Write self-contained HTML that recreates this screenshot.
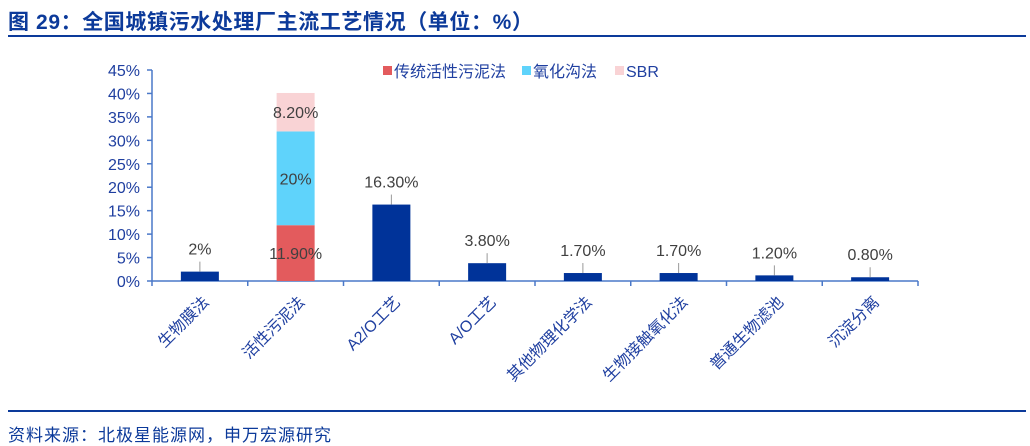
<!DOCTYPE html>
<html><head><meta charset="utf-8"><style>
body{margin:0;width:1030px;height:442px;background:#fff;overflow:hidden;font-family:"Liberation Sans","Noto Sans CJK SC",sans-serif;position:relative}
.title{position:absolute;left:8px;top:6px;font-size:21px;font-weight:bold;color:#0c3a9a;white-space:nowrap;letter-spacing:0.6px}
.rule{position:absolute;left:8px;width:1018px;height:2px;background:#0c3a9a}
.src{position:absolute;left:8px;top:421px;font-size:17px;color:#0c3a9a;letter-spacing:1px}
</style></head><body>
<div class="title">图 29：全国城镇污水处理厂主流工艺情况（单位：%）</div>
<div class="rule" style="top:35px"></div>
<div class="rule" style="top:410px"></div>
<div class="src">资料来源：北极星能源网，申万宏源研究</div>
<svg id="chart" width="1030" height="442" style="position:absolute;left:0;top:0"></svg>
<script>
const categories=["生物膜法","活性污泥法","A2/O工艺","A/O工艺","其他物理化学法","生物接触氧化法","普通生物滤池","沉淀分离"];
const singleValues=[2,null,16.3,3.8,1.7,1.7,1.2,0.8];
const singleLabels=["2%","","16.30%","3.80%","1.70%","1.70%","1.20%","0.80%"];
const stackTraditional=11.9, stackOxidation=20, stackSBR=8.2;
const stackLabels=["11.90%","20%","8.20%"];
const yTicks=[0,5,10,15,20,25,30,35,40,45];
const svg=document.getElementById('chart');
const NS='http://www.w3.org/2000/svg';
const x0=152,x1=918,yBase=281,yTop=70,yMax=45;
const bw=(x1-x0)/categories.length;
const y=v=>yBase-(v/yMax)*(yBase-yTop);
const xc=i=>x0+bw*(i+0.5);
function mk(t,a){const e=document.createElementNS(NS,t);for(const k in a)e.setAttribute(k,a[k]);svg.appendChild(e);return e;}
const axisC='#4a78c8',txtC='#1f3fa0';
let e=mk('line',{x1:x0,y1:yTop,x2:x0,y2:yBase,stroke:axisC,'stroke-width':1.5});

e=mk('line',{x1:x0,y1:yBase,x2:x1,y2:yBase,stroke:axisC,'stroke-width':1.5});

yTicks.forEach(v=>{
 mk('line',{x1:x0-5,y1:y(v),x2:x0,y2:y(v),stroke:axisC,'stroke-width':1.5});
 e=mk('text',{x:x0-12,y:y(v)+6,'text-anchor':'end','font-size':16,fill:txtC});
 e.textContent=v+'%';
 
});
for(let i=0;i<=categories.length;i++){mk('line',{x1:x0+bw*i,y1:yBase,x2:x0+bw*i,y2:yBase+5,stroke:axisC,'stroke-width':1.5});}
const barW=38;
categories.forEach((c,i)=>{
 const cx=xc(i);
 e=mk('text',{x:0,y:0,'text-anchor':'end','font-size':16,fill:txtC,transform:`translate(${cx+10},${yBase+22}) rotate(-45)`});
 e.textContent=c;
 
 const v=singleValues[i];
 if(v!=null){
  e=mk('rect',{x:cx-barW/2,y:y(v),width:barW,height:yBase-y(v),fill:'#003399'});
  
  mk('line',{x1:cx,y1:y(v),x2:cx,y2:y(v)-10,stroke:'#999','stroke-width':1});
  e=mk('text',{x:cx,y:y(v)-17,'text-anchor':'middle','font-size':16,fill:'#404040'});
  e.textContent=singleLabels[i];
  
 }else{
  const segs=[[stackTraditional,'#e35b5d','traditional'],[stackOxidation,'#5fd3fb','oxidation-ditch'],[stackSBR,'#f9d3d5','sbr']];
  let acc=0;
  segs.forEach((s,k)=>{
   e=mk('rect',{x:cx-barW/2,y:y(acc+s[0]),width:barW,height:y(acc)-y(acc+s[0]),fill:s[1]});
   
   const t=mk('text',{x:cx,y:y(acc+s[0]/2)+6,'text-anchor':'middle','font-size':16,fill:'#404040'});
   t.textContent=stackLabels[k];
   
   acc+=s[0];
  });
 }
});
const legend=[["传统活性污泥法",'#e35b5d',383],["氧化沟法",'#5fd3fb',522],["SBR",'#f9d3d5',615]];
legend.forEach(l=>{
 e=mk('rect',{x:l[2],y:66,width:9,height:9,fill:l[1]});
 
 e=mk('text',{x:l[2]+11,y:77,'font-size':16,fill:txtC});
 e.textContent=l[0];
 
});
</script>
</body></html>
